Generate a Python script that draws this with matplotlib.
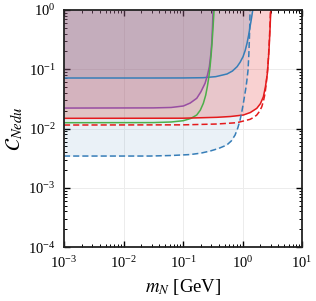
import numpy as np
import matplotlib
matplotlib.use("Agg")
import matplotlib.pyplot as plt

plt.rcParams['font.family'] = ['Liberation Serif', 'DejaVu Serif']
plt.rcParams['mathtext.fontset'] = 'stix'

# curves: log10(m_N / GeV), log10(C)
blue_solid_logm = [-3.0, -1.5, -1.0, -0.664, -0.45, -0.261, -0.17, -0.092, -0.04, 0.008, 0.045, 0.076, 0.103, 0.126, 0.15, 0.171]
blue_solid_logc = [-1.148, -1.148, -1.147, -1.143, -1.125, -1.080, -1.03, -0.957, -0.88, -0.788, -0.68, -0.557, -0.42, -0.282, -0.14, 0.0]

purple_logm = [-3.0, -1.5, -1.2, -0.995, -0.88, -0.770, -0.70, -0.630, -0.59, -0.558, -0.535, -0.518, -0.505, -0.496]
purple_logc = [-1.655, -1.652, -1.645, -1.620, -1.57, -1.490, -1.38, -1.237, -1.10, -0.957, -0.76, -0.562, -0.28, 0.0]

green_logm = [-3.0, -1.5, -1.2, -0.995, -0.87, -0.770, -0.71, -0.659, -0.62, -0.592, -0.565, -0.546, -0.528, -0.513, -0.495, -0.479]
green_logc = [-1.902, -1.900, -1.89, -1.868, -1.83, -1.772, -1.69, -1.575, -1.44, -1.294, -1.12, -0.957, -0.76, -0.562, -0.28, 0.0]

red_solid_logm = [-3.0, -1.0, -0.434, -0.2, 0.013, 0.13, 0.239, 0.30, 0.350, 0.385, 0.417, 0.435, 0.450, 0.463, 0.474]
red_solid_logc = [-1.828, -1.826, -1.811, -1.797, -1.772, -1.73, -1.659, -1.58, -1.463, -1.29, -1.068, -0.82, -0.562, -0.28, 0.0]

red_dashed_logm = [-3.0, -1.0, -0.434, -0.097, 0.126, 0.19, 0.239, 0.285, 0.323, 0.352, 0.378, 0.40, 0.420, 0.437, 0.450, 0.461, 0.470]
red_dashed_logc = [-1.941, -1.938, -1.924, -1.902, -1.845, -1.81, -1.772, -1.71, -1.632, -1.53, -1.406, -1.22, -1.010, -0.76, -0.506, -0.25, 0.0]

blue_dashed_logm = [-3.0, -1.555, -1.2, -0.882, -0.7, -0.546, -0.40, -0.265, -0.19, -0.126, -0.08, -0.042, -0.013, 0.013, 0.037, 0.059, 0.077, 0.092, 0.105, 0.114, 0.121, 0.126]
blue_dashed_logc = [-2.464, -2.464, -2.455, -2.439, -2.415, -2.380, -2.335, -2.278, -2.21, -2.110, -1.99, -1.857, -1.72, -1.575, -1.43, -1.295, -1.15, -1.013, -0.76, -0.506, -0.25, 0.0]

c_blue = '#377eb8'
c_red = '#e41a1c'
c_purple = '#984ea3'
c_green = '#4daf4a'

fig = plt.figure(figsize=(3.16, 3.01), dpi=100)
ax = fig.add_axes([0.2025, 0.179, 0.7535, 0.788])
ax.set_xscale('log')
ax.set_yscale('log')

def pts(lm, lc):
    return 10**np.array(lm), 10**np.array(lc)

m, c = pts(blue_dashed_logm, blue_dashed_logc)
ax.fill_between(m, c, 1, color=c_blue, alpha=0.1, lw=0)
m, c = pts(red_solid_logm, red_solid_logc)
ax.fill_between(m, c, 1, color=c_red, alpha=0.2, lw=0)
m, c = pts(blue_solid_logm, blue_solid_logc)
ax.fill_between(m, c, 1, color=c_blue, alpha=0.1, lw=0)
m, c = pts(purple_logm, purple_logc)
ax.fill_between(m, c, 1, color=c_purple, alpha=0.15, lw=0)
m, c = pts(green_logm, green_logc)
ax.fill_between(m, c, 1, color=c_green, alpha=0.05, lw=0)

lw = 1.1
ax.plot(*pts(blue_solid_logm, blue_solid_logc), color=c_blue, lw=lw)
ax.plot(*pts(purple_logm, purple_logc), color=c_purple, lw=lw)
ax.plot(*pts(green_logm, green_logc), color=c_green, lw=lw)
ax.plot(*pts(red_solid_logm, red_solid_logc), color=c_red, lw=lw)
ax.plot(*pts(red_dashed_logm, red_dashed_logc), color=c_red, lw=lw, ls=(0, (4, 2)))
ax.plot(*pts(blue_dashed_logm, blue_dashed_logc), color=c_blue, lw=lw, ls=(0, (4, 2)))

ax.set_xlim(1e-3, 1e1)
ax.set_ylim(1e-4, 1e0)
ax.grid(True, which='major', color='#ececec', lw=0.7)
ax.set_axisbelow(True)
ax.tick_params(which='both', direction='in', top=True, right=True, labelsize=10.5, pad=6)
ax.tick_params(which='major', length=4, width=1)
ax.tick_params(which='minor', length=2, width=0.7)
for s in ax.spines.values():
    s.set_linewidth(1.3)
    s.set_color('#222222')
ax.set_xlabel(r'$m_N$ [GeV]', fontsize=13.5)
ax.set_ylabel(r'$\mathcal{C}_{Nedu}$', fontsize=15, labelpad=2)
fig.savefig('out.png', dpi=100)
